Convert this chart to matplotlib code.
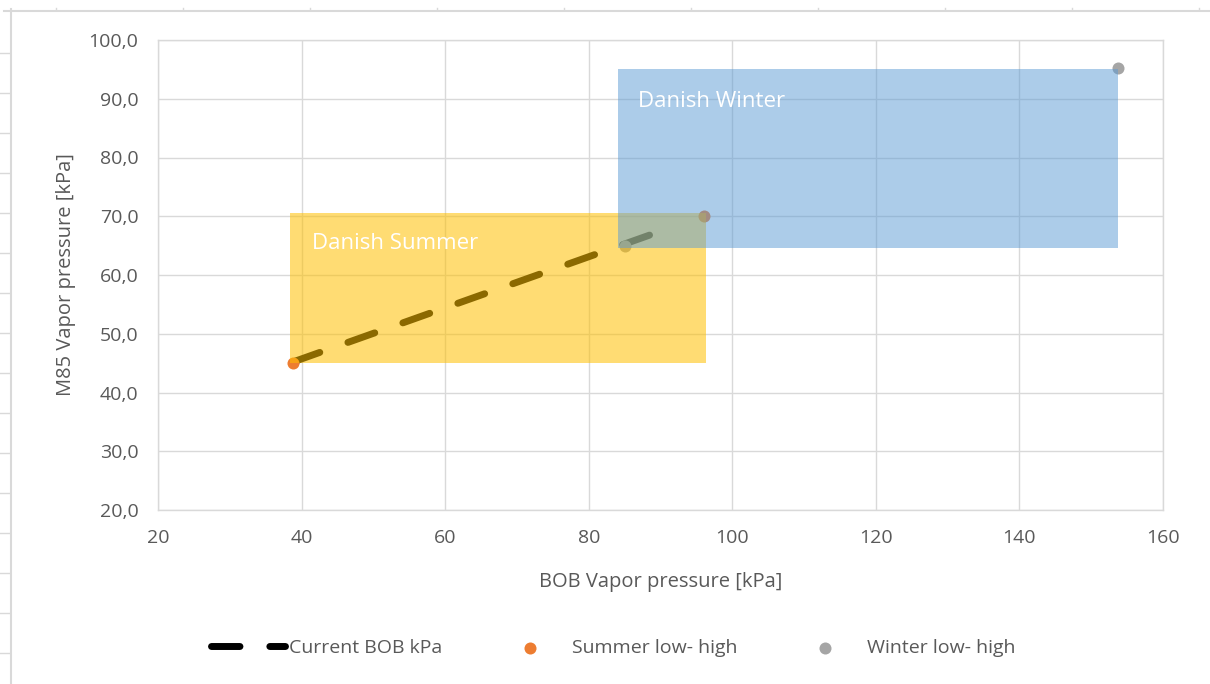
import matplotlib.pyplot as plt
from matplotlib.lines import Line2D
from matplotlib.patches import Rectangle
from matplotlib.ticker import FuncFormatter, MultipleLocator

plt.rcParams['font.family'] = ['Open Sans', 'DejaVu Sans']

# data
line_x = [38.8, 88.5]
line_y = [45.2, 66.8]
summer_x = [38.8, 96.0]
summer_y = [45.0, 70.0]
winter_x = [85.0, 153.7]
winter_y = [65.0, 95.2]
summer_box = [38.4, 96.3, 45.0, 70.5]   # x0, x1, y0, y1
winter_box = [84.1, 153.8, 64.6, 95.1]

W, H = 1210, 684
fig = plt.figure(figsize=(W / 100, H / 100), dpi=100)
ax = fig.add_axes([158 / W, 1 - 510 / H, (1163 - 158) / W, (510 - 40) / H])

grid_c = '#d9d9d9'
text_c = '#595959'

ax.set_xlim(20, 160)
ax.set_ylim(20, 100)
ax.xaxis.set_major_locator(MultipleLocator(20))
ax.yaxis.set_major_locator(MultipleLocator(10))
ax.yaxis.set_major_formatter(FuncFormatter(lambda v, p: f'{v:.1f}'.replace('.', ',')))
ax.grid(True, color=grid_c, lw=1.0, zorder=0)
ax.set_axisbelow(True)
for s in ax.spines.values():
    s.set_color(grid_c)
    s.set_linewidth(1.0)
ax.tick_params(length=0, labelsize=14, labelcolor=text_c)
ax.tick_params(axis='y', pad=14)
ax.tick_params(axis='x', pad=14)

ax.set_xlabel('BOB Vapor pressure [kPa]', fontsize=14.5, color=text_c, labelpad=18)
ax.set_ylabel('M85 Vapor pressure [kPa]', fontsize=14.5, color=text_c, labelpad=9)

ln, = ax.plot(line_x, line_y, color='black', lw=5, dashes=(4.1, 4.3),
              dash_capstyle='round', solid_capstyle='round', zorder=3,
              label='Current BOB kPa')
sc1 = ax.scatter(summer_x, summer_y, s=75, color='#ED7D31', zorder=4,
                 label='Summer low- high', linewidths=0)
sc2 = ax.scatter(winter_x, winter_y, s=75, color='#A5A5A5', zorder=4,
                 label='Winter low- high', linewidths=0)

# shaded boxes sit over the series
ax.add_patch(Rectangle((summer_box[0], summer_box[2]), summer_box[1] - summer_box[0],
                       summer_box[3] - summer_box[2], facecolor='#FFC000', alpha=0.55,
                       lw=0, zorder=5))
ax.add_patch(Rectangle((winter_box[0], winter_box[2]), winter_box[1] - winter_box[0],
                       winter_box[3] - winter_box[2], facecolor='#5B9BD5', alpha=0.5,
                       lw=0, zorder=6))
ax.text(41.4, 64.4, 'Danish Summer', color='white', fontsize=16, va='baseline', zorder=7)
ax.text(86.85, 88.6, 'Danish Winter', color='white', fontsize=16, va='baseline', zorder=7)

fig.legend(handles=[ln, sc1, sc2], loc='center', bbox_to_anchor=(613 / W, 1 - 648 / H),
           ncol=3, frameon=False, fontsize=14, labelcolor=text_c,
           handlelength=3.8, handletextpad=0.25, columnspacing=2.6, scatterpoints=1)

# chart area frame and worksheet edge marks
fig.add_artist(Line2D([4 / W, 1], [1 - 11 / H] * 2, transform=fig.transFigure,
                      color=grid_c, lw=1.5))
fig.add_artist(Line2D([11 / W] * 2, [0, 1 - 9 / H], transform=fig.transFigure,
                      color=grid_c, lw=1.5))
for yy in range(53, 684, 40):
    fig.add_artist(Line2D([0, 10 / W], [1 - yy / H] * 2, transform=fig.transFigure,
                          color=grid_c, lw=1.0))
for xx in range(56, 1210, 127):
    fig.add_artist(Line2D([xx / W] * 2, [1 - 8 / H, 1 - 10 / H], transform=fig.transFigure,
                          color=grid_c, lw=1.0))

fig.savefig('out.png', dpi=100)
